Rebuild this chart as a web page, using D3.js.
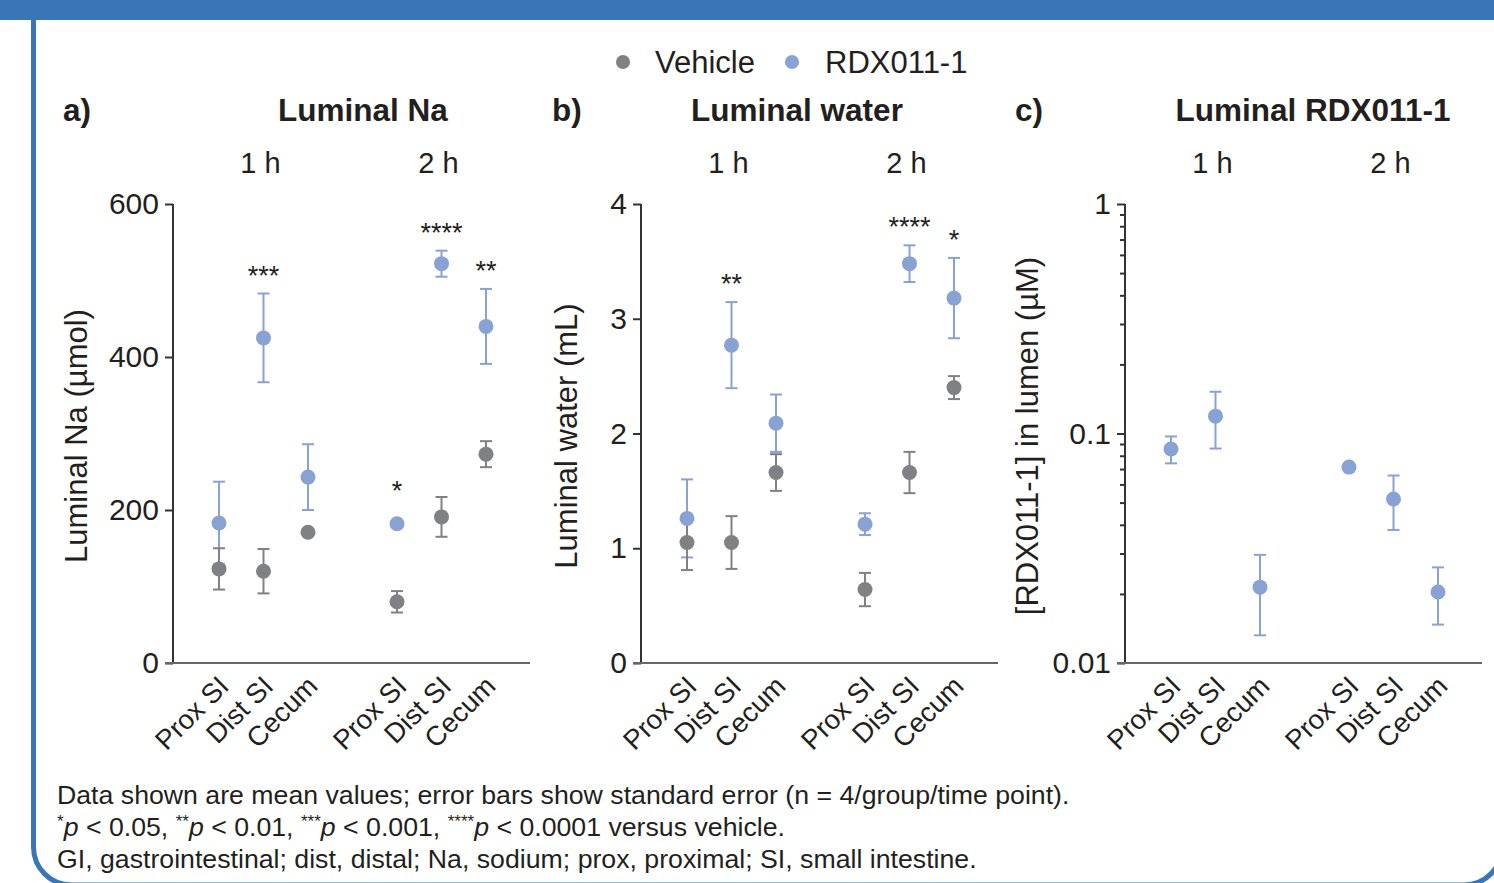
<!DOCTYPE html>
<html><head><meta charset="utf-8">
<script src="https://cdn.jsdelivr.net/npm/d3@7"></script>
<style>
body{margin:0;background:#fff}
svg{display:block}
text{font-family:"Liberation Sans",Arial,Helvetica,sans-serif;fill:#231f20}
</style>
</head><body>
<svg id="c" width="1494" height="883"></svg>
<script>
// ---------- DATA ----------
const sites = ["Prox SI", "Dist SI", "Cecum"];
const times = ["1 h", "2 h"];
const seriesNames = ["Vehicle", "RDX011-1"];
// order of values: 1 h Prox SI, Dist SI, Cecum, 2 h Prox SI, Dist SI, Cecum
const naVehicleMean = [123, 120, 171, 80, 191, 273];
const naVehicleSE   = [27, 29, 0, 14, 26, 17];
const naRdxMean     = [183, 425, 243, 182, 522, 440];
const naRdxSE       = [54, 58, 43, 0, 17, 49];
const naStars       = ["", "***", "", "*", "****", "**"];
const naTicks       = [0, 200, 400, 600];

const waterVehicleMean = [1.05, 1.05, 1.66, 0.64, 1.66, 2.40];
const waterVehicleSE   = [0.24, 0.23, 0.16, 0.145, 0.18, 0.10];
const waterRdxMean     = [1.26, 2.77, 2.09, 1.21, 3.48, 3.18];
const waterRdxSE       = [0.34, 0.375, 0.25, 0.095, 0.16, 0.35];
const waterStars       = ["", "**", "", "", "****", "*"];
const waterTicks       = [0, 1, 2, 3, 4];

const concRdxMean = [0.0856, 0.119, 0.0214, 0.0714, 0.0518, 0.0204];
const concRdxSE   = [0.0115, 0.033, 0.0082, 0, 0.0138, 0.0057];
const concStars   = ["", "", "", "", "", ""];
const concMajorTicks = [0.01, 0.1, 1];
const concMinorTicks = [0.02,0.03,0.04,0.05,0.06,0.07,0.08,0.09,0.2,0.3,0.4,0.5,0.6,0.7,0.8,0.9];

const footnotes = [
  "Data shown are mean values; error bars show standard error (n = 4/group/time point).",
  "GI, gastrointestinal; dist, distal; Na, sodium; prox, proximal; SI, small intestine."
];

// ---------- STYLE ----------
const GREY = "#808184", BLUE = "#88a3d3", FRAME = "#3a76b6", INK = "#231f20";
const svg = d3.select("#c");

// frame
svg.append("rect").attr("x", 0).attr("y", 0).attr("width", 1494).attr("height", 20).attr("fill", FRAME);
svg.append("rect").attr("x", 33.5).attr("y", -30).attr("width", 1468.5).attr("height", 915)
  .attr("rx", 38).attr("fill", "none").attr("stroke", FRAME).attr("stroke-width", 5);

// legend
const legend = svg.append("g");
[[623, 655, GREY], [792, 825, BLUE]].forEach((p, i) => {
  legend.append("circle").attr("cx", p[0]).attr("cy", 62).attr("r", 7).attr("fill", p[2]);
  legend.append("text").attr("x", p[1]).attr("y", 73).attr("font-size", 31).text(seriesNames[i]);
});

// keys for x positions
const keys = [];
times.forEach((t, ti) => { sites.forEach(s => keys.push(t + "|" + s)); if (ti === 0) keys.push("gap"); });
const dataKeys = keys.filter(k => k !== "gap");

const TOP = 204, BOT = 663;

const panels = [
  { letter: "a)", letterX: 63, title: "Luminal Na", titleX: 363, yLabel: "Luminal Na (µmol)", yLabelX: 87,
    x0: 173, log: false, domain: [0, 600], ticks: naTicks, stars: naStars,
    series: [{ mean: naRdxMean, se: naRdxSE, color: BLUE }, { mean: naVehicleMean, se: naVehicleSE, color: GREY }] },
  { letter: "b)", letterX: 552, title: "Luminal water", titleX: 797, yLabel: "Luminal water (mL)", yLabelX: 577,
    x0: 641, log: false, domain: [0, 4], ticks: waterTicks, stars: waterStars,
    series: [{ mean: waterRdxMean, se: waterRdxSE, color: BLUE }, { mean: waterVehicleMean, se: waterVehicleSE, color: GREY }] },
  { letter: "c)", letterX: 1015, title: "Luminal RDX011-1", titleX: 1313, yLabel: "[RDX011-1] in lumen (µM)", yLabelX: 1038,
    x0: 1125, log: true, domain: [0.01, 1], ticks: concMajorTicks, stars: concStars,
    series: [{ mean: concRdxMean, se: concRdxSE, color: BLUE }] }
];

panels.forEach(p => {
  const g = svg.append("g").attr("transform", `translate(${p.x0},0)`);
  const x = d3.scalePoint().domain(keys).range([1.5, 357.5]).padding(1);
  const y = (p.log ? d3.scaleLog() : d3.scaleLinear()).domain(p.domain).range([BOT, TOP]);

  // panel letter & title
  svg.append("text").attr("x", p.letterX).attr("y", 121).attr("font-size", 31.5).attr("font-weight", "bold").text(p.letter);
  svg.append("text").attr("x", p.titleX).attr("y", 121).attr("text-anchor", "middle").attr("font-size", 31.5)
    .attr("font-weight", "bold").text(p.title);
  // time labels
  times.forEach(t => {
    g.append("text").attr("x", x(t + "|" + sites[1]) - 3).attr("y", 173).attr("text-anchor", "middle")
      .attr("font-size", 29).text(t);
  });
  // y label
  svg.append("text").attr("transform", `translate(${p.yLabelX},436) rotate(-90)`).attr("text-anchor", "middle")
    .attr("font-size", 31).text(p.yLabel);

  // y axis
  const tickVals = p.log ? p.ticks.concat(concMinorTicks) : p.ticks;
  const yAxis = d3.axisLeft(y).tickValues(tickVals).tickSize(8).tickPadding(6)
    .tickFormat(d => p.ticks.includes(d) ? d3.format("~g")(d) : "");
  const ya = g.append("g").call(yAxis);
  ya.select(".domain").attr("stroke", "#333").attr("stroke-width", 2).attr("d", `M0,${TOP}V${BOT}`);
  ya.selectAll(".tick line").attr("stroke", "#333").attr("stroke-width", 2)
    .attr("x2", d => p.ticks.includes(d) ? -8 : -5);
  ya.selectAll(".tick text").attr("font-size", 30).attr("fill", INK).attr("font-family", null);

  // x axis
  const xAxis = d3.axisBottom(x).tickValues(dataKeys).tickSize(0).tickFormat(k => k.split("|")[1]);
  const xa = g.append("g").attr("transform", `translate(0,${BOT})`).call(xAxis);
  xa.select(".domain").attr("stroke", "#666").attr("stroke-width", 2).attr("d", "M-8,0H357");
  xa.selectAll(".tick text").attr("font-size", 27.5).attr("fill", INK).attr("font-family", null)
    .attr("x", 0).attr("y", 0).attr("dy", "0.71em").attr("text-anchor", "end")
    .attr("transform", "translate(-3,11) rotate(-45)");

  // error bars first
  p.series.forEach(s => {
    const eb = g.append("g").attr("stroke", s.color).attr("stroke-width", 2).attr("fill", "none");
    dataKeys.forEach((k, i) => {
      if (!s.se[i]) return;
      const cx = x(k), y1 = y(s.mean[i] + s.se[i]), y2 = y(s.mean[i] - s.se[i]);
      eb.append("line").attr("x1", cx).attr("x2", cx).attr("y1", y1).attr("y2", y2);
      eb.append("line").attr("x1", cx - 6).attr("x2", cx + 6).attr("y1", y1).attr("y2", y1);
      eb.append("line").attr("x1", cx - 6).attr("x2", cx + 6).attr("y1", y2).attr("y2", y2);
    });
  });
  // dots
  p.series.forEach(s => {
    g.append("g").selectAll("circle").data(dataKeys).join("circle")
      .attr("cx", k => x(k)).attr("cy", (k, i) => y(s.mean[i])).attr("r", 7.5).attr("fill", s.color);
  });
  // stars
  const top = p.series[0];
  dataKeys.forEach((k, i) => {
    if (!p.stars[i]) return;
    const yTop = top.se[i] ? y(top.mean[i] + top.se[i]) : y(top.mean[i]) - 15;
    g.append("text").attr("x", x(k)).attr("y", yTop - 24 + 15).attr("text-anchor", "middle")
      .attr("font-size", 27).text(p.stars[i]);
  });
});

// footnotes
const fn = svg.append("g").attr("font-size", 26.7);
fn.append("text").attr("x", 57).attr("y", 804).attr("font-size", 26.7).text(footnotes[0]);
const l2 = fn.append("text").attr("x", 57).attr("y", 836).attr("font-size", 26.7);
const pieces = [["*", "p", " < 0.05, "], ["**", "p", " < 0.01, "], ["***", "p", " < 0.001, "], ["****", "p", " < 0.0001 versus vehicle."]];
pieces.forEach(pc => {
  l2.append("tspan").attr("font-size", 17).attr("dy", -9).text(pc[0]);
  l2.append("tspan").attr("font-style", "italic").attr("dy", 9).text(pc[1]);
  l2.append("tspan").text(pc[2]);
});
fn.append("text").attr("x", 57).attr("y", 868).attr("font-size", 26.7).text(footnotes[1]);
</script>
</body></html>
